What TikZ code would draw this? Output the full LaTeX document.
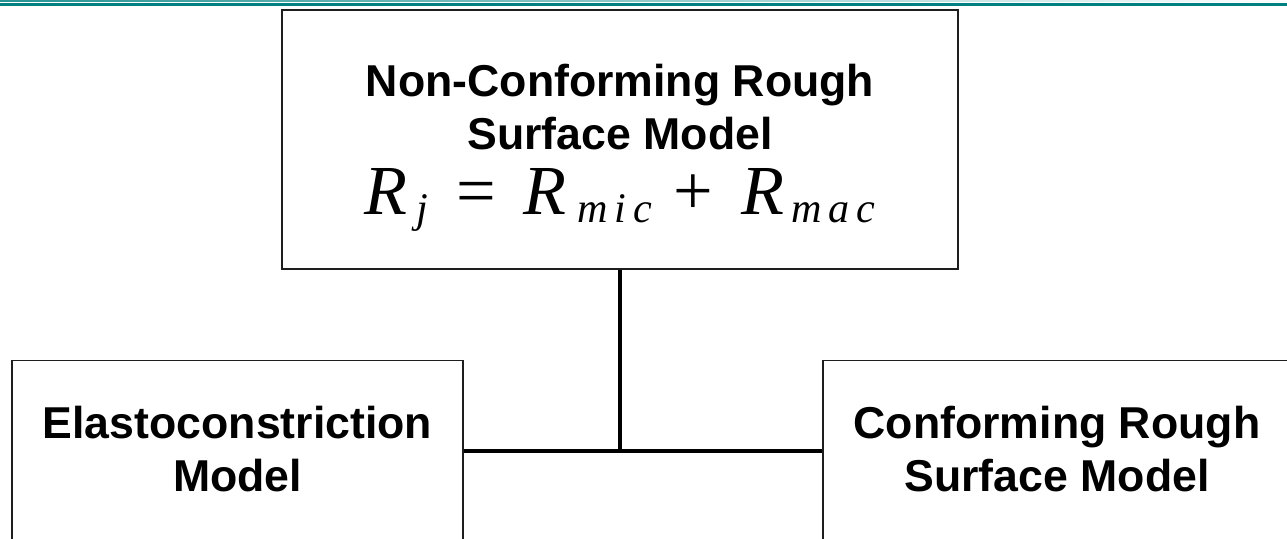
\documentclass[tikz,border=0pt]{standalone}
\usepackage{fontspec}
\setmainfont{Liberation Sans}
\newfontfamily\eqfont{Liberation Serif}
\definecolor{slideteal}{RGB}{0, 128, 128}
\definecolor{boxline}{RGB}{30, 30, 30}
\newcommand{\eqsub}[1]{\raisebox{-4.5pt}{\fontsize{24}{24}\selectfont #1}}
\newcommand{\eqline}{{\eqfont\mdseries\fontsize{40}{40}\selectfont
  \itshape R\hspace{5pt}\eqsub{j}\hspace{16pt}\upshape=\hspace{16pt}\itshape R\hspace{6pt}\eqsub{m\hspace{4pt}i\hspace{4pt}c}\hspace{12pt}\upshape+\hspace{16pt}\itshape R\hspace{4pt}\eqsub{m\hspace{4pt}a\hspace{4pt}c}}}
\tikzset{
	model/.style={rectangle, draw=boxline, line width=0.8pt, fill=white, align=center, font=\bfseries\fontsize{25.4}{30.2}\selectfont},
	link/.style={line width=2.6pt, draw=black},
}

\begin{document}
\begin{tikzpicture}
	\useasboundingbox (0,0) rectangle (25.74,10.78);
	\clip (0,0) rectangle (25.74,10.78);
	% header rule of the slide
	\shade[left color=slideteal!85, right color=white] (0,10.75) rectangle (25.74,10.78);
	\fill[slideteal] (0,10.66) rectangle (25.74,10.72);
	\node[model, minimum width=13.52cm, minimum height=5.18cm] (noncon) at (12.40,7.99) {\rule{0pt}{28pt}Non-Conforming Rough\\Surface Model\\[7pt]\eqline};
	\node[model, anchor=north, minimum width=9.02cm, inner ysep=0.9cm, text depth=1.5cm] (elasto) at (4.75,3.58) {Elastoconstriction\\Model};
	\node[model, anchor=north, minimum width=9.36cm, inner ysep=0.9cm, text depth=1.5cm] (conform) at (21.14,3.58) {Conforming Rough\\Surface Model};
	\coordinate (junction) at (noncon.south |- 0,1.76);
	\draw[link] (noncon.south) -- (junction);
	\draw[link] (elasto.east |- junction) -- (conform.west |- junction);
\end{tikzpicture}
\end{document}
